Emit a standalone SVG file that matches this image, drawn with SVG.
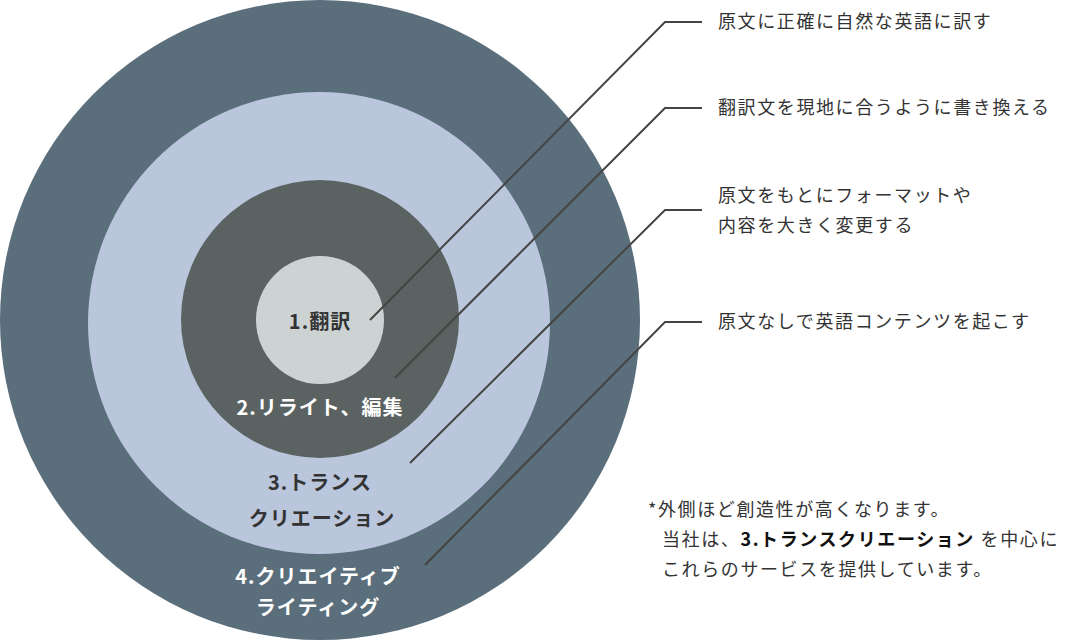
<svg xmlns="http://www.w3.org/2000/svg" width="1072" height="640" viewBox="0 0 1072 640">
<style>
text{font-family:"Noto Sans CJK JP","Noto Sans",sans-serif;}
.lbl{font-size:20px;font-weight:bold;text-anchor:middle;letter-spacing:1px;}
.d{font-size:18px;fill:#333;letter-spacing:1.6px;}
.ln{fill:none;stroke:#444;stroke-width:2;}
</style>
<rect width="1072" height="640" fill="#fff"/>
<g id="n4"><circle cx="320" cy="320" r="320" fill="#5a6e7b"/>
<text class="lbl" x="318" y="584" fill="#fff">4.クリエイティブ</text><text class="lbl" x="318" y="615" fill="#fff">ライティング</text></g>
<g id="n3"><circle cx="319" cy="323" r="231" fill="#b9c6dc"/>
<text class="lbl" x="320" y="490" fill="#333">3.トランス</text><text class="lbl" x="322" y="526" fill="#333">クリエーション</text></g>
<g id="n2"><circle cx="320" cy="319" r="139" fill="#5b6362"/>
<text class="lbl" x="320" y="415" fill="#fff">2.リライト、編集</text></g>
<g id="n1"><circle cx="320" cy="320" r="64" fill="#cdd3d3"/>
<text class="lbl" x="320" y="329" fill="#333">1.翻訳</text></g>
<g id="connectors">
<polyline class="ln" points="370,320 665,22 702,22"/>
<polyline class="ln" points="395,378 665,108 702,108"/>
<polyline class="ln" points="410,463 665,210 702,210"/>
<polyline class="ln" points="425,565 665,322 702,322"/>
</g>
<g id="texts">
<text class="d" x="718" y="28">原文に正確に自然な英語に訳す</text>
<text class="d" x="718" y="114">翻訳文を現地に合うように書き換える</text>
<text class="d" x="718" y="202">原文をもとにフォーマットや</text>
<text class="d" x="718" y="232">内容を大きく変更する</text>
<text class="d" x="718" y="328">原文なしで英語コンテンツを起こす</text>
<text class="d" x="648" y="516">*外側ほど創造性が高くなります。</text>
<text class="d" x="662" y="546">当社は、<tspan font-weight="bold" fill="#111">3.トランスクリエーション</tspan> を中心に</text>
<text class="d" x="662" y="576">これらのサービスを提供しています。</text>
</g>
</svg>
